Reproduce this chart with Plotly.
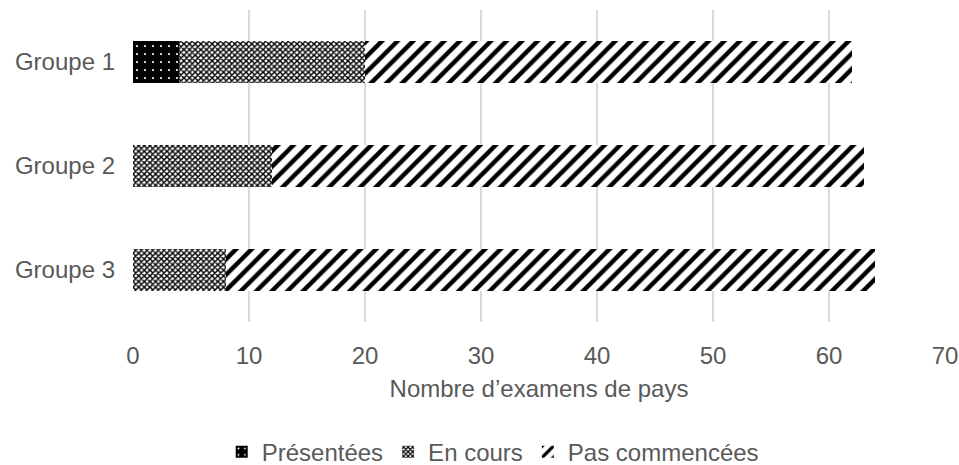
import plotly.graph_objects as go

groups = ["Groupe 1", "Groupe 2", "Groupe 3"]
presentees = [4, 0, 0]
en_cours = [16, 12, 8]
pas_commencees = [42, 51, 56]
x_ticks = [0, 10, 20, 30, 40, 50, 60, 70]

FONT = "Liberation Sans, Arial, sans-serif"
GREY = "#595959"
FS = 24

fig = go.Figure()
fig.add_trace(go.Bar(
    y=groups, x=presentees, orientation="h", name="Présentées",
    marker=dict(color="black", line=dict(width=0),
                pattern=dict(shape=".", bgcolor="black", fgcolor="white", fgopacity=1,
                             size=8, solidity=0.06)),
))
fig.add_trace(go.Bar(
    y=groups, x=en_cours, orientation="h", name="En cours",
    marker=dict(color="white", line=dict(width=0),
                pattern=dict(shape="x", bgcolor="white", fgcolor="black", fgopacity=1,
                             size=4, solidity=0.6)),
))
fig.add_trace(go.Bar(
    y=groups, x=pas_commencees, orientation="h", name="Pas commencées",
    marker=dict(color="white", line=dict(width=0),
                pattern=dict(shape="/", bgcolor="white", fgcolor="black", fgopacity=1,
                             size=11, solidity=0.4)),
))

fig.update_layout(
    barmode="stack",
    bargap=0.6,
    width=959, height=465,
    margin=dict(l=133, r=14, t=10, b=143, autoexpand=False),
    paper_bgcolor="white", plot_bgcolor="white",
    font=dict(family=FONT, size=FS, color=GREY),
    xaxis=dict(range=[0, 70], tickvals=x_ticks, showgrid=True, gridcolor="#d9d9d9",
               gridwidth=1.5, zeroline=False, showline=False, ticks="", automargin=False,
               ticklabelstandoff=17, ticklabeloverflow="allow",
               title=dict(text="Nombre d’examens de pays", standoff=12, font=dict(size=FS, color=GREY)),
               tickfont=dict(size=FS, color=GREY)),
    yaxis=dict(categoryorder="array", categoryarray=groups, autorange="reversed",
               showgrid=False, zeroline=False, showline=False, ticks="", automargin=False,
               ticklabelstandoff=17,
               tickfont=dict(size=FS, color=GREY)),
    legend=dict(orientation="h", xref="paper", x=0.443, xanchor="center",
                y=-0.417, yanchor="middle",
                font=dict(size=FS, color=GREY), traceorder="normal"),
)

fig.write_html("out.html",
               config={"displayModeBar": False},
               post_script="document.body.style.margin='0';document.body.style.overflow='hidden';")
